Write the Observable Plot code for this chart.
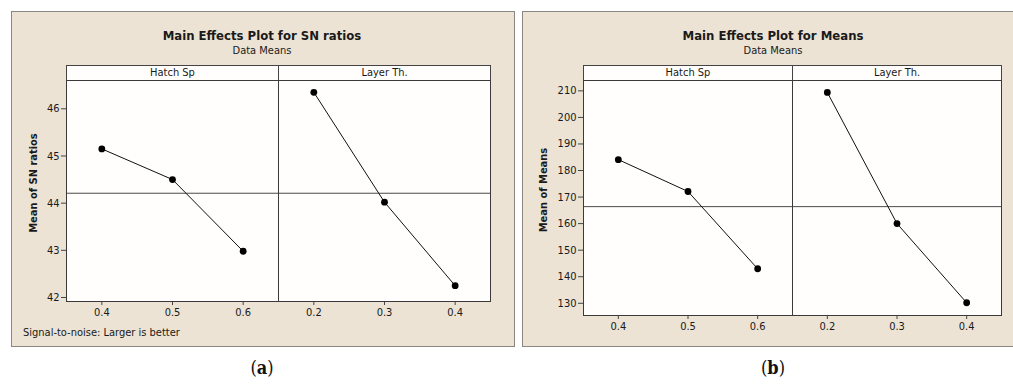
<!DOCTYPE html>
<html>
<head>
<meta charset="utf-8">
<script src="https://cdn.jsdelivr.net/npm/d3@7"></script>
<script src="https://cdn.jsdelivr.net/npm/@observablehq/plot@0.6"></script>
<style>
  html, body { margin: 0; padding: 0; background: #ffffff; }
  #root { position: relative; width: 1013px; height: 387px; overflow: hidden;
    font-family: "DejaVu Sans Condensed", "DejaVu Sans", sans-serif; font-stretch: condensed; color: #1a1a1a; }
  .box { position: absolute; background: #ece3d4; border: 1px solid #8a8782; box-sizing: border-box; }
  .abs { position: absolute; white-space: nowrap; }
  .title { font-weight: bold; font-size: 13px; transform: translate(-50%, -50%); }
  .sub { font-size: 11px; transform: translate(-50%, -50%); }
  .ylab { font-weight: bold; font-size: 11px; transform: translate(-50%, -50%) rotate(-90deg); }
  .strip { position: absolute; background: #fffefc; border: 1px solid #444; box-sizing: border-box;
    font-size: 11px; text-align: center; line-height: 13px; }
  .foot { font-size: 11px; transform: translate(0, -50%); }
  .panel { font-family: "DejaVu Serif", serif; font-size: 18px; transform: translate(-50%, -50%); color: #111; }
  .plot { position: absolute; }
</style>
</head>
<body>
<div id="root"></div>
<script>
// ---- data ----
const factors = ["Hatch Sp", "Layer Th."];
const hatchLevels = [0.4, 0.5, 0.6];
const layerLevels = [0.2, 0.3, 0.4];
const snHatch = [45.15, 44.50, 42.98];
const snLayer = [46.35, 44.02, 42.25];
const meansHatch = [184.1, 172.1, 143.0];
const meansLayer = [209.4, 160.0, 130.2];
const snTicks = [42, 43, 44, 45, 46];
const meansTicks = [130, 140, 150, 160, 170, 180, 190, 200, 210];
const titles = ["Main Effects Plot for SN ratios", "Main Effects Plot for Means"];
const subtitle = "Data Means";
const yLabels = ["Mean of SN ratios", "Mean of Means"];
const footnote = "Signal-to-noise: Larger is better";
const panelLetters = ["a", "b"];

const root = document.getElementById("root");
function el(cls, css, html) {
  const d = document.createElement("div");
  d.className = cls;
  Object.assign(d.style, css);
  if (html != null) d.innerHTML = html;
  root.appendChild(d);
  return d;
}

function subPlot({levels, values, xDomain, yDomain, yTicks, showY, w, h, mean}) {
  const data = levels.map((x, i) => ({x, y: values[i]}));
  const mL = showY ? 45 : 0, mB = 26;
  return Plot.plot({
    width: mL + w, height: h + mB,
    marginLeft: mL, marginRight: 0, marginTop: 0, marginBottom: mB,
    style: {background: "transparent", fontSize: "11px", overflow: "visible", color: "#1a1a1a",
      fontFamily: '"DejaVu Sans Condensed", "DejaVu Sans", sans-serif'},
    x: {domain: xDomain, axis: null},
    y: {domain: yDomain, axis: null},
    marks: [
      Plot.frame({fill: "#fffefc", stroke: "none"}),
      Plot.ruleY([mean], {stroke: "#4a4a4a", strokeWidth: 1}),
      Plot.line(data, {x: "x", y: "y", stroke: "#111", strokeWidth: 1}),
      Plot.dot(data, {x: "x", y: "y", r: 3.4, fill: "#000", stroke: "none"}),
      Plot.axisX({ticks: levels, tickFormat: d3.format(".1f"), tickSize: 4, tickPadding: 3, label: null, stroke: "#444"}),
      showY ? Plot.axisY({ticks: yTicks, tickFormat: d3.format("d"), tickSize: 5, tickPadding: 2, label: null, stroke: "#444"}) : null,
      Plot.frame({stroke: "#3a3a3a"})
    ]
  });
}

function chart(cfg) {
  el("box", {left: cfg.box[0] + "px", top: cfg.box[1] + "px", width: cfg.box[2] + "px", height: cfg.box[3] + "px"});
  el("abs title", {left: cfg.cx + "px", top: "35px"}, cfg.title);
  el("abs sub", {left: cfg.cx + "px", top: "50px"}, subtitle);
  el("abs ylab", {left: cfg.ylx + "px", top: cfg.yly + "px"}, cfg.ylabel);
  const [x0, x1, x2] = cfg.xs;
  el("strip", {left: x0 + "px", top: "65px", width: (x1 - x0 + 1) + "px", height: "16px"}, factors[0]);
  el("strip", {left: x1 + "px", top: "65px", width: (x2 - x1 + 1) + "px", height: "16px"}, factors[1]);
  const mean = d3.mean(cfg.hatch);
  const p1 = subPlot({levels: hatchLevels, values: cfg.hatch, xDomain: [0.35, 0.65], yDomain: cfg.yDomain,
    yTicks: cfg.yTicks, showY: true, w: x1 - x0, h: cfg.bottom - 80, mean});
  p1.classList.add("plot"); p1.style.left = (x0 - 45) + "px"; p1.style.top = "80px";
  root.appendChild(p1);
  const p2 = subPlot({levels: layerLevels, values: cfg.layer, xDomain: [0.15, 0.45], yDomain: cfg.yDomain,
    yTicks: cfg.yTicks, showY: false, w: x2 - x1, h: cfg.bottom - 80, mean});
  p2.classList.add("plot"); p2.style.left = x1 + "px"; p2.style.top = "80px";
  root.appendChild(p2);
  el("abs panel", {left: cfg.cx + "px", top: "367px"}, "(<b>" + cfg.letter + "</b>)");
}

chart({box: [11, 11, 504, 336], cx: 262, title: titles[0], ylabel: yLabels[0], ylx: 33, yly: 183,
  xs: [66, 278, 490], bottom: 301, hatch: snHatch, layer: snLayer,
  yDomain: [41.915, 46.6], yTicks: snTicks, letter: panelLetters[0]});
el("abs foot", {left: "23px", top: "332px"}, footnote);

chart({box: [522, 11, 494, 336], cx: 773, title: titles[1], ylabel: yLabels[1], ylx: 543, yly: 190,
  xs: [583, 792, 1001], bottom: 315, hatch: meansHatch, layer: meansLayer,
  yDomain: [125.4, 213.9], yTicks: meansTicks, letter: panelLetters[1]});
</script>
</body>
</html>
